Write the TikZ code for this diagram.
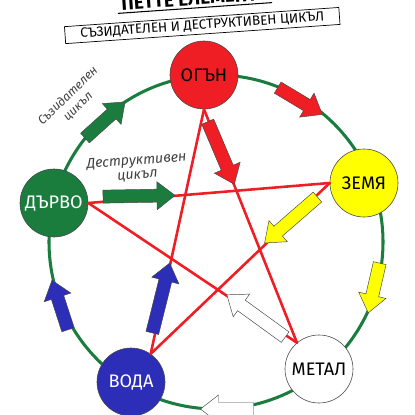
\documentclass[tikz,border=0pt]{standalone}
\usepackage{fontspec}
\setmainfont{Fira Sans}
\usetikzlibrary{arrows.meta}
\definecolor{fillG}{RGB}{26,125,62}
\definecolor{fillR}{RGB}{238,30,36}
\definecolor{fillY}{RGB}{255,255,0}
\definecolor{fillV}{RGB}{44,46,184}
\definecolor{edgeD}{RGB}{70,70,70}
% широка стрелка: цвят, център, ъгъл, дължина
\newcommand{\elemarrow}[4]{%
  \draw[edgeD, line width=0.4pt, line join=miter, fill=#1, shift={#2}, rotate=#3]
    (-#4/2,-6.5) -- (#4/2-18,-6.5) -- (#4/2-18,-14) -- (#4/2,0)
    -- (#4/2-18,14) -- (#4/2-18,6.5) -- (-#4/2,6.5) -- cycle;}

\begin{document}
\begin{tikzpicture}[x=0.3mm, y=-0.3mm, line cap=round,
  elem/.style={circle, draw=edgeD, line width=0.5pt, minimum size=20.4mm,
    inner sep=0pt, font=\fontsize{15.5}{16}\selectfont},
  star/.style={fillR, line width=2.2pt},
  hand/.style={text=black!75, align=center}]
\useasboundingbox (0,0) rectangle (415,415);
\clip (0,0) rectangle (415,415);
% заглавие
\begin{scope}[shift={(195,8)}, rotate=4, transform shape]
\node[font=\bfseries\fontsize{16}{18}\selectfont, anchor=base] (title) at (0,-3) {ПЕТТЕ ЕЛЕМЕНТА};
\draw[line width=0.9pt] (-77,0) -- (77,0);
\node[draw=black, line width=0.6pt, inner sep=0pt, minimum width=82.5mm,
  minimum height=5.1mm, font=\fontsize{11.5}{12}\selectfont] (sub) at (6,18)
  {СЪЗИДАТЕЛЕН И ДЕСТРУКТИВЕН ЦИКЪЛ};
\end{scope}
% кръг
\draw[fillG, line width=2.6pt] (216,242) circle[radius=167];
% елементи
\node[elem, fill=fillR] (fire) at (204,75) {ОГЪН};
\node[elem, fill=fillY] (earth) at (364,183) {ЗЕМЯ};
\node[elem, fill=white] (metal) at (319,369) {МЕТАЛ};
\node[elem, fill=fillV, text=white] (water) at (131,382) {ВОДА};
\node[elem, fill=fillG, text=white] (wood) at (54,203) {ДЪРВО};
% звезда
\draw[star] (fire.south) -- (water.55);
\draw[star] (fire.south) -- (metal.130);
\draw[star] (earth.west) -- (wood.east);
\draw[star] (earth.west) -- (water.55);
\draw[star] (wood.east) -- (metal.130);
% надписи
\node[hand, rotate=44, font=\itshape\fontsize{10.5}{12.5}\selectfont] (creLbl) at (73,101)
  {Съзидателен\\цикъл};
\node[hand, rotate=4, font=\itshape\fontsize{12}{12}\selectfont] (desLbl) at (137,168)
  {Деструктивен\\цикъл};
% съзидателен цикъл
\elemarrow{fillG}{(105,120)}{42}{54}
\elemarrow{fillR}{(300,101)}{-31}{52}
\elemarrow{fillY}{(374,288)}{-103}{51}
\elemarrow{white}{(227,409)}{180}{53}
\elemarrow{fillV}{(60,305)}{108}{52}
% деструктивен цикъл
\elemarrow{fillG}{(139,196)}{1}{72}
\elemarrow{fillR}{(221,153)}{-67}{68}
\elemarrow{fillY}{(291,220)}{-139}{70}
\elemarrow{white}{(256,316)}{144}{72}
\elemarrow{fillV}{(161,298)}{76}{72}
\end{tikzpicture}
\end{document}
